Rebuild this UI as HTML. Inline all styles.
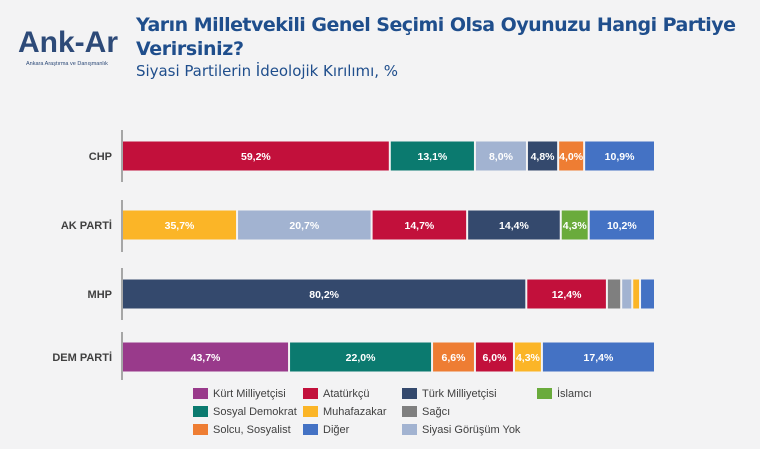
<!DOCTYPE html>
<html><head><meta charset="utf-8">
<style>
body{margin:0;width:760px;height:449px;overflow:hidden;background:#f3f3f4;font-family:"Liberation Sans","DejaVu Sans",sans-serif;}
svg{display:block}
</style></head>
<body>
<svg width="760" height="449" viewBox="0 0 760 449">
<rect width="760" height="449" fill="#f3f3f4"/>
<g>
<text x="18" y="52" font-size="30" font-weight="bold" fill="#2d4a78" textLength="100">Ank-Ar</text>
<text x="26" y="65" font-size="5.5" fill="#2d4a78">Ankara Araştırma ve Danışmanlık</text>
</g>
<text x="136" y="31" font-size="19" font-weight="bold" fill="#1f4e8c" textLength="600" font-family="DejaVu Sans, sans-serif">Yarın Milletvekili Genel Seçimi Olsa Oyunuzu Hangi Partiye</text>
<text x="136" y="55" font-size="19" font-weight="bold" fill="#1f4e8c" textLength="108" font-family="DejaVu Sans, sans-serif">Verirsiniz?</text>
<text x="136" y="76" font-size="15" fill="#1f4e8c" textLength="262" font-family="DejaVu Sans, sans-serif">Siyasi Partilerin İdeolojik Kırılımı, %</text>
<g id="plot"></g>
<g id="legend"></g>
</svg>
<script>
const categories=["CHP","AK PARTİ","MHP","DEM PARTİ"];
const seriesNames=["Kürt Milliyetçisi","Atatürkçü","Türk Milliyetçisi","İslamcı","Sosyal Demokrat","Muhafazakar","Sağcı","Solcu, Sosyalist","Diğer","Siyasi Görüşüm Yok"];
const seriesColors=["#993a8b","#c2103b","#34496d","#6aab3c","#0b7a6f","#fbb527","#7f7f7f","#ee7d33","#4472c4","#a2b3d1"];
const chpSeries=["Atatürkçü","Sosyal Demokrat","Siyasi Görüşüm Yok","Türk Milliyetçisi","Solcu, Sosyalist","Diğer"];
const chpValues=[59.2,13.1,8.0,4.8,4.0,10.9];
const akSeries=["Muhafazakar","Siyasi Görüşüm Yok","Atatürkçü","Türk Milliyetçisi","İslamcı","Diğer"];
const akValues=[35.7,20.7,14.7,14.4,4.3,10.2];
const mhpSeries=["Türk Milliyetçisi","Atatürkçü","Sağcı","Siyasi Görüşüm Yok","Muhafazakar","Diğer"];
const mhpValues=[80.2,12.4,2.2,1.7,1.2,2.3];
const mhpLabeled=[true,true,false,false,false,false];
const demSeries=["Kürt Milliyetçisi","Sosyal Demokrat","Solcu, Sosyalist","Atatürkçü","Muhafazakar","Diğer"];
const demValues=[43.7,22.0,6.6,6.0,4.3,17.4];
const axisMin=18, axisMax=100;

const NS="http://www.w3.org/2000/svg";
const X0=123, X1=656;
function xScale(v){return X0+(v-axisMin)/(axisMax-axisMin)*(X1-X0);}
const rowY=[156,225,294,357];
const barH=29;
function col(n){return seriesColors[seriesNames.indexOf(n)];}
function mk(tag,attrs,parent){const e=document.createElementNS(NS,tag);for(const k in attrs)e.setAttribute(k,attrs[k]);parent.appendChild(e);return e;}
const plot=document.getElementById('plot');
const rows=[[chpSeries,chpValues,null],[akSeries,akValues,null],[mhpSeries,mhpValues,mhpLabeled],[demSeries,demValues,null]];
const axisSegs=[[130,182],[200,252],[268,320],[332,380]];
rows.forEach((r,i)=>{
  const y=rowY[i];
  const ax=mk('line',{x1:122,x2:122,y1:axisSegs[i][0],y2:axisSegs[i][1],stroke:'#a6a6a6','stroke-width':2},plot);
  
  
  const lab=mk('text',{x:112,y:y+4,'text-anchor':'end','font-size':11,'font-weight':'bold',fill:'#404040'},plot);
  lab.textContent=categories[i];
  
  
  let cum=0;
  r[1].forEach((v,j)=>{
    const a=Math.max(xScale(cum),X0), b=xScale(cum+v);
    cum+=v;
    const w=Math.max(b-a-2,0.5);
    const rect=mk('rect',{x:a,y:y-barH/2,width:w,height:barH,fill:col(r[0][j])},plot);
    
    
    if(!r[2]||r[2][j]){
      const t=mk('text',{x:a+w/2,y:y+4,'text-anchor':'middle','font-size':10.5,'font-weight':'bold',fill:'#fff'},plot);
      t.textContent=v.toFixed(1).replace('.',',')+'%';
      
      
    }
  });
});
const legendOrder=[["Kürt Milliyetçisi","Atatürkçü","Türk Milliyetçisi","İslamcı"],["Sosyal Demokrat","Muhafazakar","Sağcı"],["Solcu, Sosyalist","Diğer","Siyasi Görüşüm Yok"]];
const lgX=[193,303,402,537], lgY=[393,411,429];
const lg=document.getElementById('legend');
legendOrder.forEach((row,ri)=>row.forEach((n,ci)=>{
  const g=mk('g',{},lg);
  
  
  mk('rect',{x:lgX[ci],y:lgY[ri]-5,width:15,height:11,fill:col(n)},g);
  const t=mk('text',{x:lgX[ci]+20,y:lgY[ri]+4,'font-size':11,fill:'#404040'},g);
  t.textContent=n;
}));
</script>
</body></html>
